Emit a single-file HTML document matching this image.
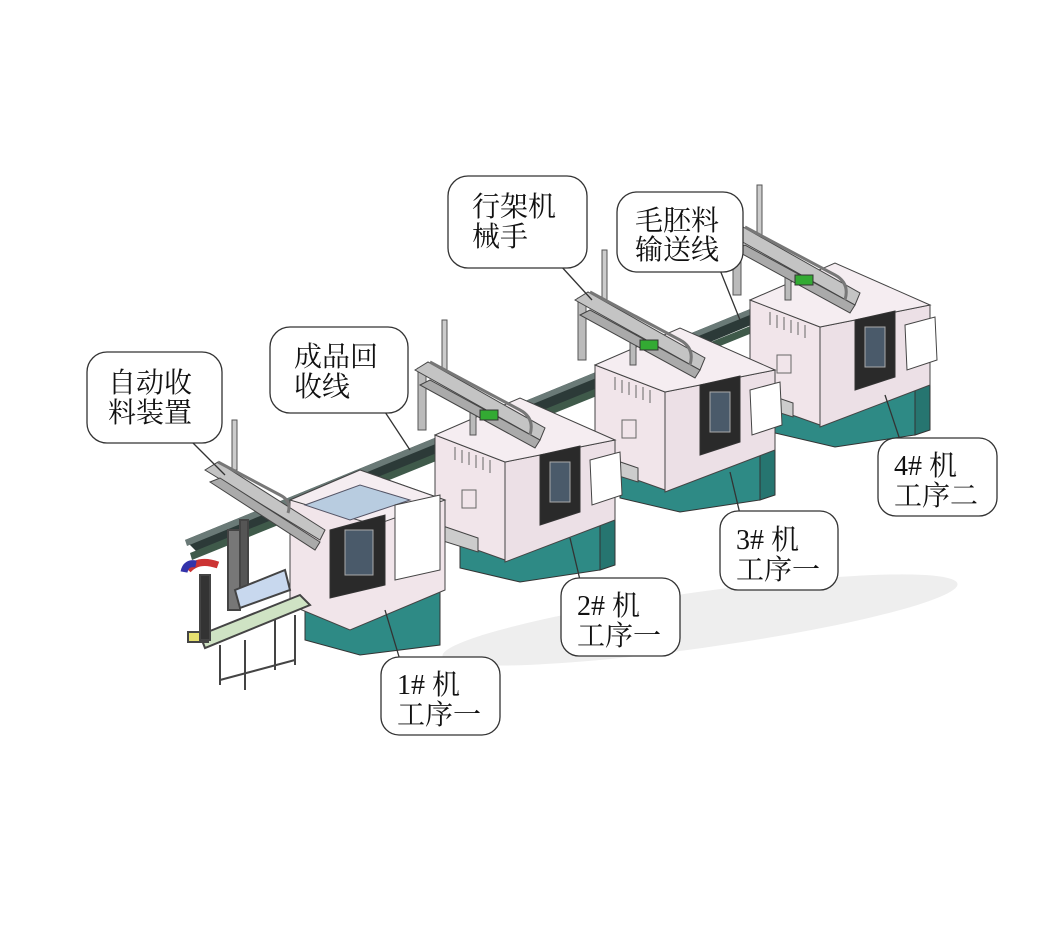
<!DOCTYPE html>
<html><head><meta charset="utf-8"><style>
html,body{margin:0;padding:0;background:#fff;}
svg{display:block}
text{font-family:"Liberation Serif","Noto Serif CJK SC","Noto Sans CJK SC",serif;fill:#111;}
</style></head><body>
<svg width="1052" height="941" viewBox="0 0 1052 941" xmlns="http://www.w3.org/2000/svg">
<defs>
<g id="mach">
 <!-- base -->
 <polygon points="460,525 600,505 600,570 520,582 460,568" fill="#2e8a85" stroke="#333"/>
 <polygon points="600,505 615,515 615,565 600,570" fill="#267570" stroke="#333"/>
 <!-- body -->
 <polygon points="435,435 505,462 505,560 435,535" fill="#f1e5ea" stroke="#444"/>
 <polygon points="505,462 615,440 615,520 505,562" fill="#ece0e6" stroke="#444"/>
 <polygon points="435,435 520,398 615,440 505,462" fill="#f5edf1" stroke="#444"/>
 <g stroke="#666"><line x1="455" y1="447" x2="455" y2="460"/><line x1="462" y1="450" x2="462" y2="463"/><line x1="469" y1="452" x2="469" y2="465"/><line x1="476" y1="455" x2="476" y2="468"/><line x1="483" y1="457" x2="483" y2="470"/><line x1="490" y1="460" x2="490" y2="473"/></g>
 <rect x="462" y="490" width="14" height="18" fill="none" stroke="#666"/>
 <polygon points="440,525 478,538 478,552 440,540" fill="#ccc" stroke="#444"/>
 <polygon points="540,455 580,446 580,512 540,525" fill="#2a2a2a" stroke="#333"/>
 <rect x="550" y="462" width="20" height="40" fill="#4a5a6a" stroke="#aaa"/>
 <polygon points="590,460 620,452 622,495 592,505" fill="#fff" stroke="#444"/>
 <!-- gantry on top -->
 <rect x="442" y="320" width="5" height="60" fill="#ccc" stroke="#555"/>
 <rect x="418" y="368" width="8" height="62" fill="#bbb" stroke="#555"/>
 <rect x="470" y="395" width="6" height="40" fill="#bbb" stroke="#555"/>
 <polygon points="415,370 428,362 545,428 540,440" fill="#c4c4c4" stroke="#444"/>
 <polygon points="420,385 430,380 540,440 535,448" fill="#aaa" stroke="#444"/>
 <path d="M430,362 L520,410 q15,8 10,25" fill="none" stroke="#777" stroke-width="3"/>
 <rect x="480" y="410" width="18" height="10" fill="#3a3" stroke="#333"/>
</g>
</defs>
<!-- shadow -->
<ellipse cx="700" cy="620" rx="260" ry="28" fill="#eeeeee" transform="rotate(-8 700 620)"/>
<!-- conveyor -->
<polygon points="185,540 760,305 775,315 200,555" fill="#2c3a38"/>
<polygon points="185,540 760,305 762,310 187,546" fill="#6a7a77"/>
<polygon points="190,553 770,318 772,325 192,560" fill="#3f5a4a"/>

<use href="#mach" transform="translate(315,-135)"/>
<use href="#mach" transform="translate(160,-70)"/>
<use href="#mach"/>

<!-- Machine 1 -->
<g>
<polygon points="305,600 440,585 440,645 360,655 305,640" fill="#2e8a85" stroke="#333"/>
<polygon points="290,500 360,470 445,500 445,590 350,630 290,605" fill="#f1e5ea" stroke="#444"/>
<polygon points="290,500 360,470 445,500 375,525" fill="#f5edf1" stroke="#444"/>
<polygon points="305,505 360,485 410,500 350,520" fill="#b8cce0" stroke="#556"/>
<polygon points="330,530 385,515 385,585 330,598" fill="#2a2a2a" stroke="#333"/>
<rect x="345" y="530" width="28" height="45" fill="#4a5a6a" stroke="#aaa"/>
<polygon points="395,505 440,495 440,570 395,580" fill="#fff" stroke="#444"/>
<rect x="232" y="420" width="5" height="50" fill="#ccc" stroke="#555"/>
<polygon points="205,470 218,462 325,530 320,540" fill="#c4c4c4" stroke="#444"/>
<polygon points="210,482 220,478 320,542 315,550" fill="#aaa" stroke="#444"/>
<path d="M218,462 L280,495 q12,6 8,18" fill="none" stroke="#777" stroke-width="3"/>
</g>
<!-- collection station -->
<g stroke="#444" stroke-width="2" fill="none">
<polygon points="200,635 300,595 310,605 205,648" fill="#cfe3c4"/>
<line x1="220" y1="645" x2="220" y2="685"/><line x1="245" y1="640" x2="245" y2="690"/>
<line x1="295" y1="615" x2="295" y2="665"/><line x1="275" y1="620" x2="275" y2="670"/>
<line x1="220" y1="680" x2="295" y2="660"/>
<rect x="188" y="632" width="20" height="10" fill="#e6e070"/>
<rect x="200" y="575" width="10" height="65" fill="#333"/>
<rect x="228" y="530" width="12" height="80" fill="#777"/>
<rect x="240" y="520" width="8" height="70" fill="#555"/>
<polygon points="235,590 285,570 290,590 240,608" fill="#c8d8ee"/>
</g>
<path d="M188,570 q10,-12 30,-5" stroke="#c33" stroke-width="7" fill="none"/>
<path d="M184,572 q2,-10 12,-8" stroke="#33a" stroke-width="7" fill="none"/>

<!-- callouts -->
<g fill="#fff" stroke="#333" stroke-width="1.3">
<line x1="190" y1="440" x2="225" y2="475"/>
<line x1="385" y1="412" x2="410" y2="450"/>
<line x1="560" y1="265" x2="592" y2="300"/>
<line x1="720" y1="270" x2="740" y2="320"/>
<line x1="400" y1="660" x2="385" y2="610"/>
<line x1="580" y1="580" x2="570" y2="538"/>
<line x1="740" y1="514" x2="730" y2="472"/>
<line x1="900" y1="440" x2="885" y2="395"/>
<rect x="87" y="352" width="135" height="91" rx="20"/>
<rect x="270" y="327" width="138" height="86" rx="20"/>
<rect x="448" y="176" width="139" height="92" rx="20"/>
<rect x="617" y="192" width="126" height="80" rx="20"/>
<rect x="381" y="657" width="119" height="78" rx="18"/>
<rect x="561" y="578" width="119" height="78" rx="18"/>
<rect x="720" y="511" width="118" height="79" rx="18"/>
<rect x="878" y="438" width="119" height="78" rx="18"/>
</g>
<g font-size="28">
<text x="108" y="392">自动收</text><text x="108" y="422">料装置</text>
<text x="294" y="366">成品回</text><text x="294" y="396">收线</text>
<text x="472" y="216">行架机</text><text x="472" y="246">械手</text>
<text x="635" y="230">毛胚料</text><text x="635" y="259">输送线</text>
<text x="397" y="694">1# 机</text><text x="397" y="724">工序一</text>
<text x="577" y="615">2# 机</text><text x="577" y="645">工序一</text>
<text x="736" y="549">3# 机</text><text x="736" y="579">工序一</text>
<text x="894" y="475">4# 机</text><text x="894" y="505">工序二</text>
</g>
</svg>
</body></html>
